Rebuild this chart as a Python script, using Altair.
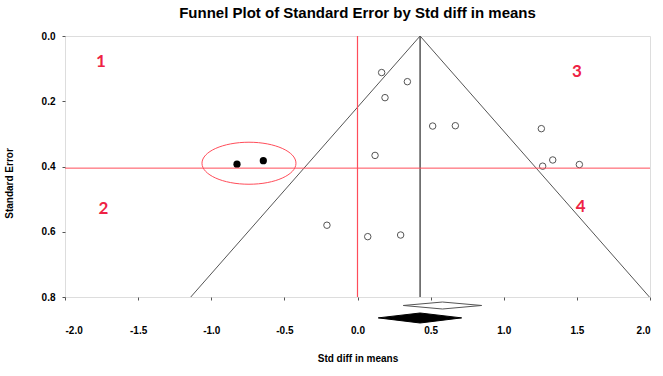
import altair as alt
import pandas as pd

# ---- data ----
obs_effect = [0.165, 0.341, 0.188, 0.514, 0.669, 1.257, 1.335, 1.266, 1.517, 0.120, -0.209, 0.070, 0.295]
obs_se = [0.112, 0.140, 0.189, 0.276, 0.275, 0.284, 0.380, 0.399, 0.394, 0.366, 0.580, 0.615, 0.610]
imp_effect = [-0.824, -0.644]
imp_se = [0.393, 0.382]

funnel_x = [-1.140, 0.428, 1.996]
funnel_se = [0.800, 0.000, 0.800]
pooled_est = 0.428

obs_diamond = [0.313, 0.581, 0.849]   # observed: lower, point, upper
adj_diamond = [0.142, 0.428, 0.712]   # adjusted: lower, point, upper

quad_labels = ["1", "2", "3", "4"]
quad_x = [-1.755, -1.738, 1.501, 1.526]
quad_se = [0.079, 0.530, 0.109, 0.524]

cut_x = [0.0]
cut_se = [0.405]
ellipse_x = [-0.742]
ellipse_se = [0.390]

x_ticks = [-2.0, -1.5, -1.0, -0.5, 0.0, 0.5, 1.0, 1.5, 2.0]
y_ticks = [0.0, 0.2, 0.4, 0.6, 0.8]

# ---- layout constants (positions below the frame, in SE units) ----
obs_d_rows = (0.8154, 0.8260, 0.8368)  # top, centre, bottom
adj_d_rows = (0.8490, 0.8640, 0.8797)

FONT = "Liberation Sans"
RED_LINE = "#ff4d5a"
RED_TEXT = "#ee2244"
GREY = "#555555"

xscale = alt.Scale(domain=[-2, 2], nice=False, zero=False)
yscale = alt.Scale(domain=[0, 0.8], reverse=True, nice=False, zero=False)

x_axis = alt.Axis(
    values=x_ticks,
    labelExpr="datum.value < 0 ? '-' + format(-datum.value, '.1f') : format(datum.value, '.1f')",
    labelFont=FONT, labelFontSize=10, labelFontWeight="bold", labelColor="black",
    labelPadding=25, tickSize=3, tickColor=GREY, domain=False, grid=False,
    title="Std diff in means", titleFont=FONT, titleFontSize=10, titleFontWeight="bold",
    titleColor="black", titleY=61, titleBaseline="middle",
)
y_axis = alt.Axis(
    values=y_ticks, format=".1f",
    labelFont=FONT, labelFontSize=10, labelFontWeight="bold", labelColor="black",
    labelPadding=7, tickSize=3, tickColor=GREY, domain=False, grid=False,
    title="Standard Error", titleFont=FONT, titleFontSize=10, titleFontWeight="bold",
    titleColor="black", titleX=-56, titleY=147, titleBaseline="middle",
)

X = lambda f: alt.X(f, type="quantitative", scale=xscale, axis=x_axis)
Y = lambda f: alt.Y(f, type="quantitative", scale=yscale, axis=y_axis)

obs_df = pd.DataFrame({"x": obs_effect, "se": obs_se})
imp_df = pd.DataFrame({"x": imp_effect, "se": imp_se})
fun_df = pd.DataFrame({"x": funnel_x, "se": funnel_se, "i": [0, 1, 2]})
vline_df = pd.DataFrame({"px": [pooled_est]})
quad_df = pd.DataFrame({"t": quad_labels, "x": quad_x, "se": quad_se})
cut_v_df = pd.DataFrame({"cx": cut_x})
cut_h_df = pd.DataFrame({"cse": cut_se})
ell_df = pd.DataFrame({"x": ellipse_x, "se": ellipse_se})

def diamond_df(vals, rows):
    top, mid, bot = rows
    return pd.DataFrame({"x": vals, "y": [mid, top, mid], "y2": [mid, bot, mid]})

obs_dia = diamond_df(obs_diamond, obs_d_rows)
adj_dia = diamond_df(adj_diamond, adj_d_rows)

funnel = alt.Chart(fun_df).mark_line(color=GREY, strokeWidth=1).encode(
    x=X("x"), y=Y("se"), order=alt.Order("i:Q"))
vline = alt.Chart(vline_df).mark_rule(color="#555555", strokeWidth=1.5).encode(x=X("px"))
cut_v = alt.Chart(cut_v_df).mark_rule(color=RED_LINE, strokeWidth=1.2).encode(x=X("cx"))
cut_h = alt.Chart(cut_h_df).mark_rule(color=RED_LINE, strokeWidth=1).encode(y=Y("cse"))

obs_pts = alt.Chart(obs_df).mark_point(shape="circle", filled=False, size=42, color=GREY,
                                       strokeWidth=1, opacity=1).encode(x=X("x"), y=Y("se"))
imp_pts = alt.Chart(imp_df).mark_point(shape="circle", filled=True, size=52, color="black",
                                       opacity=1).encode(x=X("x"), y=Y("se"))

ellipse = alt.Chart(ell_df).mark_point(
    shape="M -1 0 A 1 0.447 0 1 1 1 0 A 1 0.447 0 1 1 -1 0 Z",
    size=8836, filled=False, color=RED_LINE, strokeWidth=1, opacity=1,
).encode(x=X("x"), y=Y("se"))

quads = alt.Chart(quad_df).mark_text(font="Lato", fontSize=17, fontWeight="bold", color=RED_TEXT,
                                     baseline="middle", align="center").encode(
    x=X("x"), y=Y("se"), text="t:N")

obs_d = alt.Chart(obs_dia).mark_area(fill="white", stroke=GREY, strokeWidth=1, clip=False).encode(
    x=X("x"), y=Y("y"), y2="y2")
adj_d = alt.Chart(adj_dia).mark_area(fill="black", stroke="black", strokeWidth=1, clip=False).encode(
    x=X("x"), y=Y("y"), y2="y2")

chart = alt.layer(funnel, vline, ellipse, obs_pts, imp_pts, quads, obs_d, adj_d, cut_h, cut_v).properties(
    width=585, height=261,
    title=alt.TitleParams("Funnel Plot of Standard Error by Std diff in means", font=FONT,
                          fontSize=15, fontWeight="bold", color="black", anchor="middle", offset=10),
    autosize=alt.AutoSizeParams(type="none"),
    padding={"left": 65, "top": 36, "right": 13, "bottom": 79},
).configure_view(stroke=GREY, strokeWidth=1).configure(background="white")

chart.save("out.html", embed_options={"renderer": "svg", "actions": False})
